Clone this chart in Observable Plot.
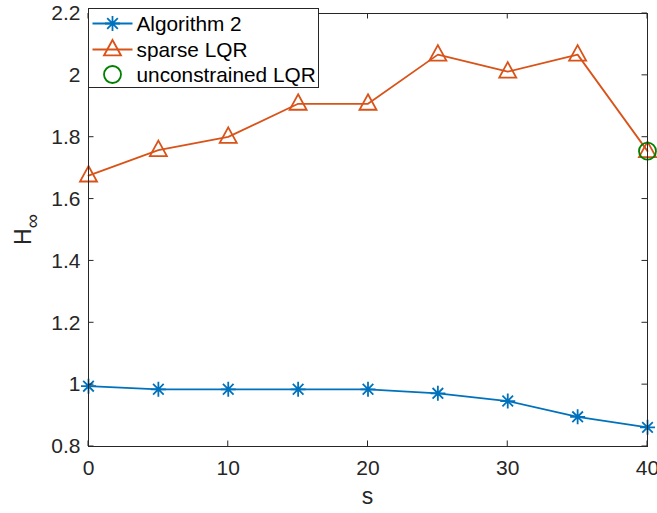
<!DOCTYPE html>
<html>
<head>
<meta charset="utf-8">
<script src="https://cdn.jsdelivr.net/npm/d3@7"></script>
<script src="https://cdn.jsdelivr.net/npm/@observablehq/plot@0.6"></script>
<style>
  html, body { margin: 0; padding: 0; background: #fff; }
  #chart { position: relative; width: 657px; height: 513px; }
</style>
</head>
<body>
<div id="chart"></div>
<script>
const sValues = [0, 5, 10, 15, 20, 25, 30, 35, 40];
const algorithm2 = [0.995, 0.985, 0.985, 0.985, 0.985, 0.972, 0.947, 0.896, 0.862];
const sparseLQR = [1.676, 1.758, 1.801, 1.908, 1.908, 2.067, 2.012, 2.067, 1.755];
const unconstrainedS = [40];
const unconstrainedLQR = [1.755];
const xTicks = [0, 10, 20, 30, 40];
const yTicks = [0.8, 1, 1.2, 1.4, 1.6, 1.8, 2, 2.2];
const seriesNames = ["Algorithm 2", "sparse LQR", "unconstrained LQR"];
const colors = ["#0072BD", "#D95319", "#008000"];

const algData = sValues.map((s, i) => ({s, v: algorithm2[i]}));
const lqrData = sValues.map((s, i) => ({s, v: sparseLQR[i]}));
const uncData = unconstrainedS.map((s, i) => ({s, v: unconstrainedLQR[i]}));

const asterisk = {
  draw(ctx, size) {
    const r = Math.sqrt(size / Math.PI);
    const d = r * Math.SQRT1_2;
    ctx.moveTo(-r, 0); ctx.lineTo(r, 0);
    ctx.moveTo(0, -r); ctx.lineTo(0, r);
    ctx.moveTo(-d, -d); ctx.lineTo(d, d);
    ctx.moveTo(-d, d); ctx.lineTo(d, -d);
  }
};
const triangleUp = {
  draw(ctx, size) {
    const r = Math.sqrt(size / Math.PI);
    ctx.moveTo(0, -r * 1.12);
    ctx.lineTo(r, r * 0.7);
    ctx.lineTo(-r, r * 0.7);
    ctx.closePath();
  }
};

const font = "'Liberation Sans', Arial, Helvetica, sans-serif";
const textColor = "#262626";
const lw = 1.8;

const plot = Plot.plot({
  width: 657,
  height: 513,
  marginLeft: 88,
  marginRight: 10,
  marginTop: 13,
  marginBottom: 67,
  style: {fontFamily: font, fontSize: "21px", color: textColor, background: "white", overflow: "visible"},
  x: {domain: [0, 40], ticks: xTicks},
  y: {domain: [0.8, 2.2], ticks: yTicks},
  marks: [
    Plot.axisX({ticks: xTicks, tickSize: 0, tickPadding: 14, label: null, fontSize: 21, tickFormat: d => String(d), fill: textColor}),
    Plot.axisY({ticks: yTicks, tickSize: 0, tickPadding: 8, label: null, fontSize: 21, tickFormat: d => String(d), fill: textColor}),
    Plot.line(algData, {x: "s", y: "v", stroke: colors[0], strokeWidth: lw}),
    Plot.dot(algData, {x: "s", y: "v", symbol: asterisk, r: 7.5, stroke: colors[0], strokeWidth: lw, fill: "none"}),
    Plot.line(lqrData, {x: "s", y: "v", stroke: colors[1], strokeWidth: lw}),
    Plot.dot(lqrData, {x: "s", y: "v", symbol: triangleUp, r: 8.5, stroke: colors[1], strokeWidth: lw, fill: "none"}),
    Plot.dot(uncData, {x: "s", y: "v", symbol: "circle", r: 8.5, stroke: colors[2], strokeWidth: lw, fill: "none"}),
    Plot.frame({stroke: textColor, strokeWidth: 1})
  ]
});

document.getElementById("chart").appendChild(plot);

// inward ticks on all four sides, positioned via the plot's scales
const svg = d3.select(plot);
const sx = plot.scale("x"), sy = plot.scale("y");
const x0 = sx.apply(0), x1 = sx.apply(40), y0 = sy.apply(0.8), y1 = sy.apply(2.2);
const tl = 5.5;
const tg = svg.append("g").attr("stroke", textColor).attr("stroke-width", 1);
xTicks.forEach(t => {
  const x = sx.apply(t);
  tg.append("line").attr("x1", x).attr("x2", x).attr("y1", y0).attr("y2", y0 - tl);
  tg.append("line").attr("x1", x).attr("x2", x).attr("y1", y1).attr("y2", y1 + tl);
});
yTicks.forEach(t => {
  const y = sy.apply(t);
  tg.append("line").attr("x1", x0).attr("x2", x0 + tl).attr("y1", y).attr("y2", y);
  tg.append("line").attr("x1", x1).attr("x2", x1 - tl).attr("y1", y).attr("y2", y);
});

// axis labels
svg.append("text")
  .attr("x", (x0 + x1) / 2).attr("y", 504)
  .attr("text-anchor", "middle")
  .attr("font-family", font).attr("font-size", 23).attr("fill", textColor)
  .text("s");
const yl = svg.append("text")
  .attr("transform", `translate(31, ${(y0 + y1) / 2}) rotate(-90)`)
  .attr("text-anchor", "middle")
  .attr("font-family", font).attr("font-size", 23).attr("fill", textColor);
yl.append("tspan").text("H");
yl.append("tspan").attr("dy", 8).attr("font-size", 20).text("∞");

// legend
const lg = svg.append("g").attr("transform", "translate(88.5, 8.5)");
lg.append("rect").attr("width", 230).attr("height", 79)
  .attr("fill", "white").attr("stroke", textColor).attr("stroke-width", 1);
const rowY = [15, 41, 66];
const symPaths = [asterisk, triangleUp, null];
seriesNames.forEach((name, i) => {
  const g = lg.append("g").attr("transform", `translate(0, ${rowY[i]})`);
  if (i < 2) {
    g.append("line").attr("x1", 4).attr("x2", 44).attr("y1", 0).attr("y2", 0)
      .attr("stroke", colors[i]).attr("stroke-width", lw);
    const r = i === 0 ? 7.5 : 8.5;
    g.append("path").attr("transform", "translate(24,0)")
      .attr("d", d3.symbol(symPaths[i], Math.PI * r * r)())
      .attr("fill", "none").attr("stroke", colors[i]).attr("stroke-width", lw);
  } else {
    g.append("circle").attr("cx", 24).attr("cy", 0).attr("r", 8.5)
      .attr("fill", "none").attr("stroke", colors[i]).attr("stroke-width", lw);
  }
  g.append("text").attr("x", 48).attr("y", 0).attr("dy", "0.36em")
    .attr("text-anchor", "start")
    .attr("font-family", font).attr("font-size", 20.8).attr("fill", "#000")
    .text(name);
});
</script>
</body>
</html>
